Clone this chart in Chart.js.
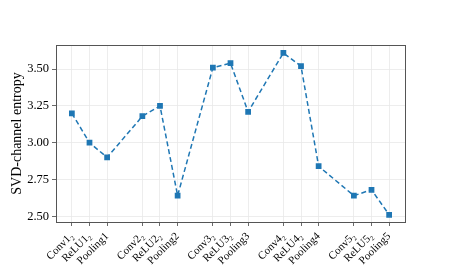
<!DOCTYPE html>
<html><head><meta charset="utf-8">
<script src="https://cdn.jsdelivr.net/npm/chart.js@4/dist/chart.umd.min.js"></script>
<style>html,body{margin:0;padding:0;background:#fff}</style>
</head><body><canvas id="c" width="450" height="265"></canvas>
<script>
const categories = ["Conv1\u2082","ReLU1\u2082","Pooling1","Conv2\u2082","ReLU2\u2082","Pooling2","Conv3\u2082","ReLU3\u2082","Pooling3","Conv4\u2082","ReLU4\u2082","Pooling4","Conv5\u2082","ReLU5\u2082","Pooling5"];
const positions = [0,1,2,4,5,6,8,9,10,12,13,14,16,17,18];
const entropy = [3.20,3.00,2.90,3.18,3.25,2.64,3.51,3.54,3.21,3.61,3.52,2.84,2.64,2.68,2.51];
const yTicks = [2.50,2.75,3.00,3.25,3.50];

const frame = {id:'frame',afterDraw(ch){const a=ch.chartArea,c=ch.ctx;c.save();c.strokeStyle='#555';c.lineWidth=1;c.strokeRect(Math.round(a.left)+0.5,Math.round(a.top)+0.5,Math.round(a.right-a.left),Math.round(a.bottom-a.top));c.restore();}};

new Chart(document.getElementById('c'),{
  type:'line',
  data:{datasets:[{data:positions.map((p,i)=>({x:p,y:entropy[i]})),borderColor:'#1f77b4',backgroundColor:'#1f77b4',borderWidth:1.5,borderDash:[5,3],pointStyle:'rect',pointRadius:3,pointHoverRadius:3,tension:0}]},
  options:{responsive:false,animation:false,devicePixelRatio:1,
    layout:{padding:{left:0,top:45,right:45,bottom:0}},
    plugins:{legend:{display:false},tooltip:{enabled:false}},
    scales:{
      x:{type:'linear',min:-0.9,max:18.9,
        afterBuildTicks(s){s.ticks=positions.map(v=>({value:v}));},
        afterFit(s){s.height=43;},
        border:{display:false},
        grid:{color:'#e8e8e8',lineWidth:0.8,tickColor:'#444',tickLength:4},
        ticks:{minRotation:45,maxRotation:45,autoSkip:false,padding:4,color:'#000',font:{family:'"Liberation Serif", serif',size:11},
          callback(v){const i=positions.indexOf(v);return i>=0?categories[i]:'';}}},
      y:{min:2.461,max:3.664,
        afterBuildTicks(s){s.ticks=yTicks.map(v=>({value:v}));},
        afterFit(s){s.width=56;},
        border:{display:false},
        grid:{color:'#e8e8e8',lineWidth:0.8,tickColor:'#444',tickLength:4},
        title:{display:true,text:'SVD-channel entropy',color:'#000',font:{family:'"Liberation Serif", serif',size:14},padding:{top:9,bottom:2}},
        ticks:{color:'#000',padding:3,font:{family:'"Liberation Serif", serif',size:12.5},callback(v){return v.toFixed(2);}}}
    }
  },
  plugins:[frame]
});
</script></body></html>
